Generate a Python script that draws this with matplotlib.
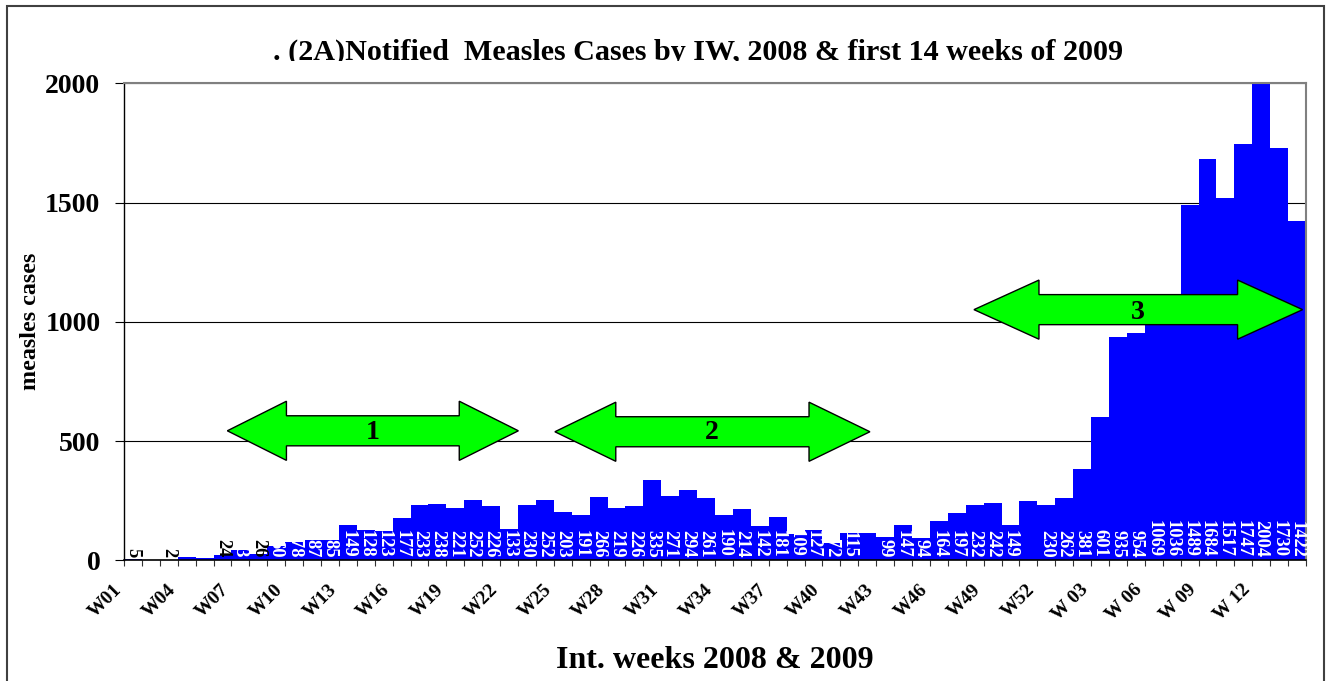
import matplotlib
matplotlib.use("Agg")
import matplotlib.pyplot as plt
import matplotlib.transforms as mtransforms
from matplotlib.patches import Polygon, Rectangle

# ---------------- data ----------------
weeks = [f"W{i:02d}" for i in range(1, 53)] + [f"W {i:02d}" for i in range(1, 15)]
cases = [5, 0, 2, 14, 10, 24, 43, 26, 60, 78, 87, 85, 149, 128, 123, 177, 233,
         238, 221, 252, 226, 133, 230, 252, 203, 191, 266, 219, 226, 335, 271,
         294, 261, 190, 214, 142, 181, 109, 127, 72, 115, 116, 99, 147, 94, 164,
         197, 232, 242, 149, 248, 230, 262, 381, 601, 935, 954, 1069, 1036, 1489,
         1684, 1517, 1747, 2004, 1730, 1422]
hidden_labels = [1, 3, 4, 41, 50]
black_labels = [0, 2, 5, 7]
title = ". (2A)Notified  Measles Cases by IW, 2008 & first 14 weeks of 2009"
xlabel = "Int. weeks 2008 & 2009"
ylabel = "measles cases"
yticks = [0, 500, 1000, 1500, 2000]
# arrows: (left tip, right tip, centre value, head length, label, label x, label y)
arrows = [(5.27, 21.52, 543, 3.3, "1", 13.4, 535),
          (23.56, 41.15, 539, 3.4, "2", 32.3, 535),
          (46.96, 65.31, 1051, 3.63, "3", 56.1, 1038)]

FONT = "Liberation Serif"
plt.rcParams["font.family"] = [FONT, "DejaVu Serif"]
plt.rcParams["font.weight"] = "bold"

W, H, DPI = 1328, 681, 100
fig = plt.figure(figsize=(W / DPI, H / DPI), dpi=DPI)
fig.patch.set_facecolor("white")

L, R, T, B = 124, 1306, 83.3, 560.3
ax = fig.add_axes([L / W, 1 - B / H, (R - L) / W, (B - T) / H])

n = len(cases)
x = list(range(n))
ax.bar(x, cases, width=1.0, color="#0000FF", edgecolor="none", zorder=2)
ax.set_xlim(-0.5, n - 0.5)
ax.set_ylim(0, 2000)

# grid
ax.set_yticks(yticks)
ax.yaxis.grid(True, color="black", linewidth=0.8, zorder=0)
ax.set_axisbelow(True)
ax.tick_params(axis="y", direction="out", length=6.5, width=0.8, pad=10.5,
               labelsize=20, colors="black")
for lab in ax.get_yticklabels():
    lab.set_fontweight("bold")

# x ticks at bar boundaries, labels drawn separately
ax.set_xticks([i - 0.5 for i in range(n + 1)])
ax.set_xticklabels([])
ax.tick_params(axis="x", direction="out", length=4, width=0.8, colors="#333333")

for s in ["top", "right"]:
    ax.spines[s].set_color("#808080")
    ax.spines[s].set_linewidth(1.5)
ax.spines["left"].set_color("black")
ax.spines["bottom"].set_color("black")
ax.spines["left"].set_linewidth(1.0)
ax.spines["bottom"].set_linewidth(1.2)

# week labels
lab_tr = ax.get_xaxis_transform() + mtransforms.ScaledTranslation(-14 / DPI, -26.5 / DPI, fig.dpi_scale_trans)
for i in list(range(0, 52, 3)) + list(range(54, n, 3)):
    ax.text(i, 0, weeks[i], transform=lab_tr, rotation=45, ha="right", va="center",
            rotation_mode="anchor", fontsize=14, fontweight="bold", clip_on=False)

# data labels
dl_tr = ax.transData + mtransforms.ScaledTranslation(0, 3 / DPI, fig.dpi_scale_trans)
for i, v in enumerate(cases):
    if i in hidden_labels:
        continue
    col = "black" if i in black_labels else "white"
    ax.text(i, 0, str(v), transform=dl_tr, rotation=270, ha="center", va="bottom",
            fontsize=13.3, fontweight="bold", color=col, zorder=3)

# arrows
shaft_half = 63
head_half = 124
for (x0, x1, yc, hl, txt, tx, ty) in arrows:
    verts = [(x0, yc), (x0 + hl, yc + head_half), (x0 + hl, yc + shaft_half),
             (x1 - hl, yc + shaft_half), (x1 - hl, yc + head_half), (x1, yc),
             (x1 - hl, yc - head_half), (x1 - hl, yc - shaft_half),
             (x0 + hl, yc - shaft_half), (x0 + hl, yc - head_half)]
    ax.add_patch(Polygon(verts, closed=True, facecolor="#00FF00", edgecolor="black",
                         linewidth=1.0, zorder=4, clip_on=False))
    ax.text(tx, ty, txt, ha="center", va="center", fontsize=20, fontweight="bold",
            color="black", zorder=5)

# axis labels
ax.set_xlabel(xlabel, fontsize=23, fontweight="bold")
ax.xaxis.set_label_coords(0.5, (B - 661) / (B - T))
ax.xaxis.label.set_va("center")
ax.set_ylabel(ylabel, fontsize=17.4, fontweight="bold")
ax.yaxis.label.set_va("center")
ax.yaxis.label.set_ha("center")
ax.yaxis.set_label_coords((30 - L) / (R - L), 0.5)

# title, clipped at bottom like the original
t = fig.text(698.5 / W, 1 - 59.5 / H, title, ha="center", va="baseline",
             fontsize=21.7, fontweight="bold")
clip = mtransforms.TransformedBbox(mtransforms.Bbox([[0, 1 - 60.5 / H], [1, 1]]), fig.transFigure)
t.set_clip_box(clip)
t.set_clip_on(True)

# outer frame
fig.patches.append(Rectangle((7 / W, -0.05), (1324 - 7) / W, 1 - 6 / H + 0.05,
                             transform=fig.transFigure, fill=False,
                             edgecolor="#404040", linewidth=1.5))

fig.savefig("out.png", dpi=DPI, facecolor="white")
